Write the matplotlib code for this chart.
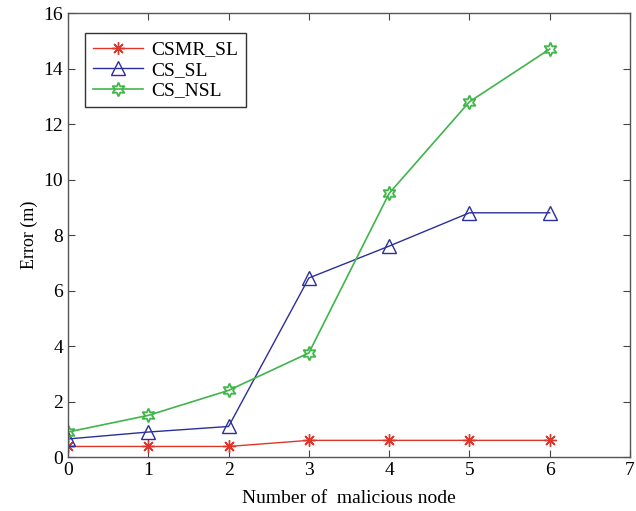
import numpy as np
import matplotlib.pyplot as plt

# values
nodes = [0, 1, 2, 3, 4, 5, 6]
csmr_sl = [0.38, 0.38, 0.38, 0.6, 0.6, 0.6, 0.6]
cs_sl = [0.65, 0.9, 1.1, 6.45, 7.6, 8.8, 8.8]
cs_nsl = [0.9, 1.5, 2.4, 3.75, 9.5, 12.8, 14.7]

plt.rcParams['font.family'] = ['Liberation Serif', 'DejaVu Serif']

fig = plt.figure(figsize=(6.36, 5.11), dpi=100)
ax = fig.add_axes([68 / 636, 1 - 457 / 511, 562 / 636, 444 / 511])

ax.plot(nodes, csmr_sl, color='#e0352b', lw=1.0, marker=(8, 2, 0), ms=9,
        mew=1.0, label='CSMR_SL')
ax.plot(nodes, cs_sl, color='#2b2f9a', lw=1.0, marker='^', ms=10,
        mfc='none', mew=1.0, label='CS_SL')
ax.plot(nodes, cs_nsl, color='#3fb54a', lw=1.2, marker=(6, 1, 0), ms=10,
        mfc='none', mew=1.3, label='CS_NSL')

ax.set_xlim(0, 7)
ax.set_ylim(0, 16)
ax.set_xticks(range(0, 8))
ax.set_yticks(range(0, 17, 2))
ax.tick_params(direction='in', top=True, right=True, labelsize=14,
               length=5, color='#444444')
for s in ax.spines.values():
    s.set_color('#555555')
    s.set_linewidth(1.0)

ax.set_xlabel('Number of  malicious node', fontsize=14, labelpad=8)
ax.set_ylabel('Error (m)', fontsize=13, labelpad=4)

leg = ax.legend(loc='upper left', fontsize=14, fancybox=False,
                edgecolor='#333333', framealpha=1, handlelength=2.6,
                borderpad=0.4, labelspacing=0.15, handletextpad=0.4,
                borderaxespad=0, bbox_to_anchor=(0.03, 0.955))
leg.get_frame().set_linewidth(1.0)

fig.savefig('out.png', dpi=100)
